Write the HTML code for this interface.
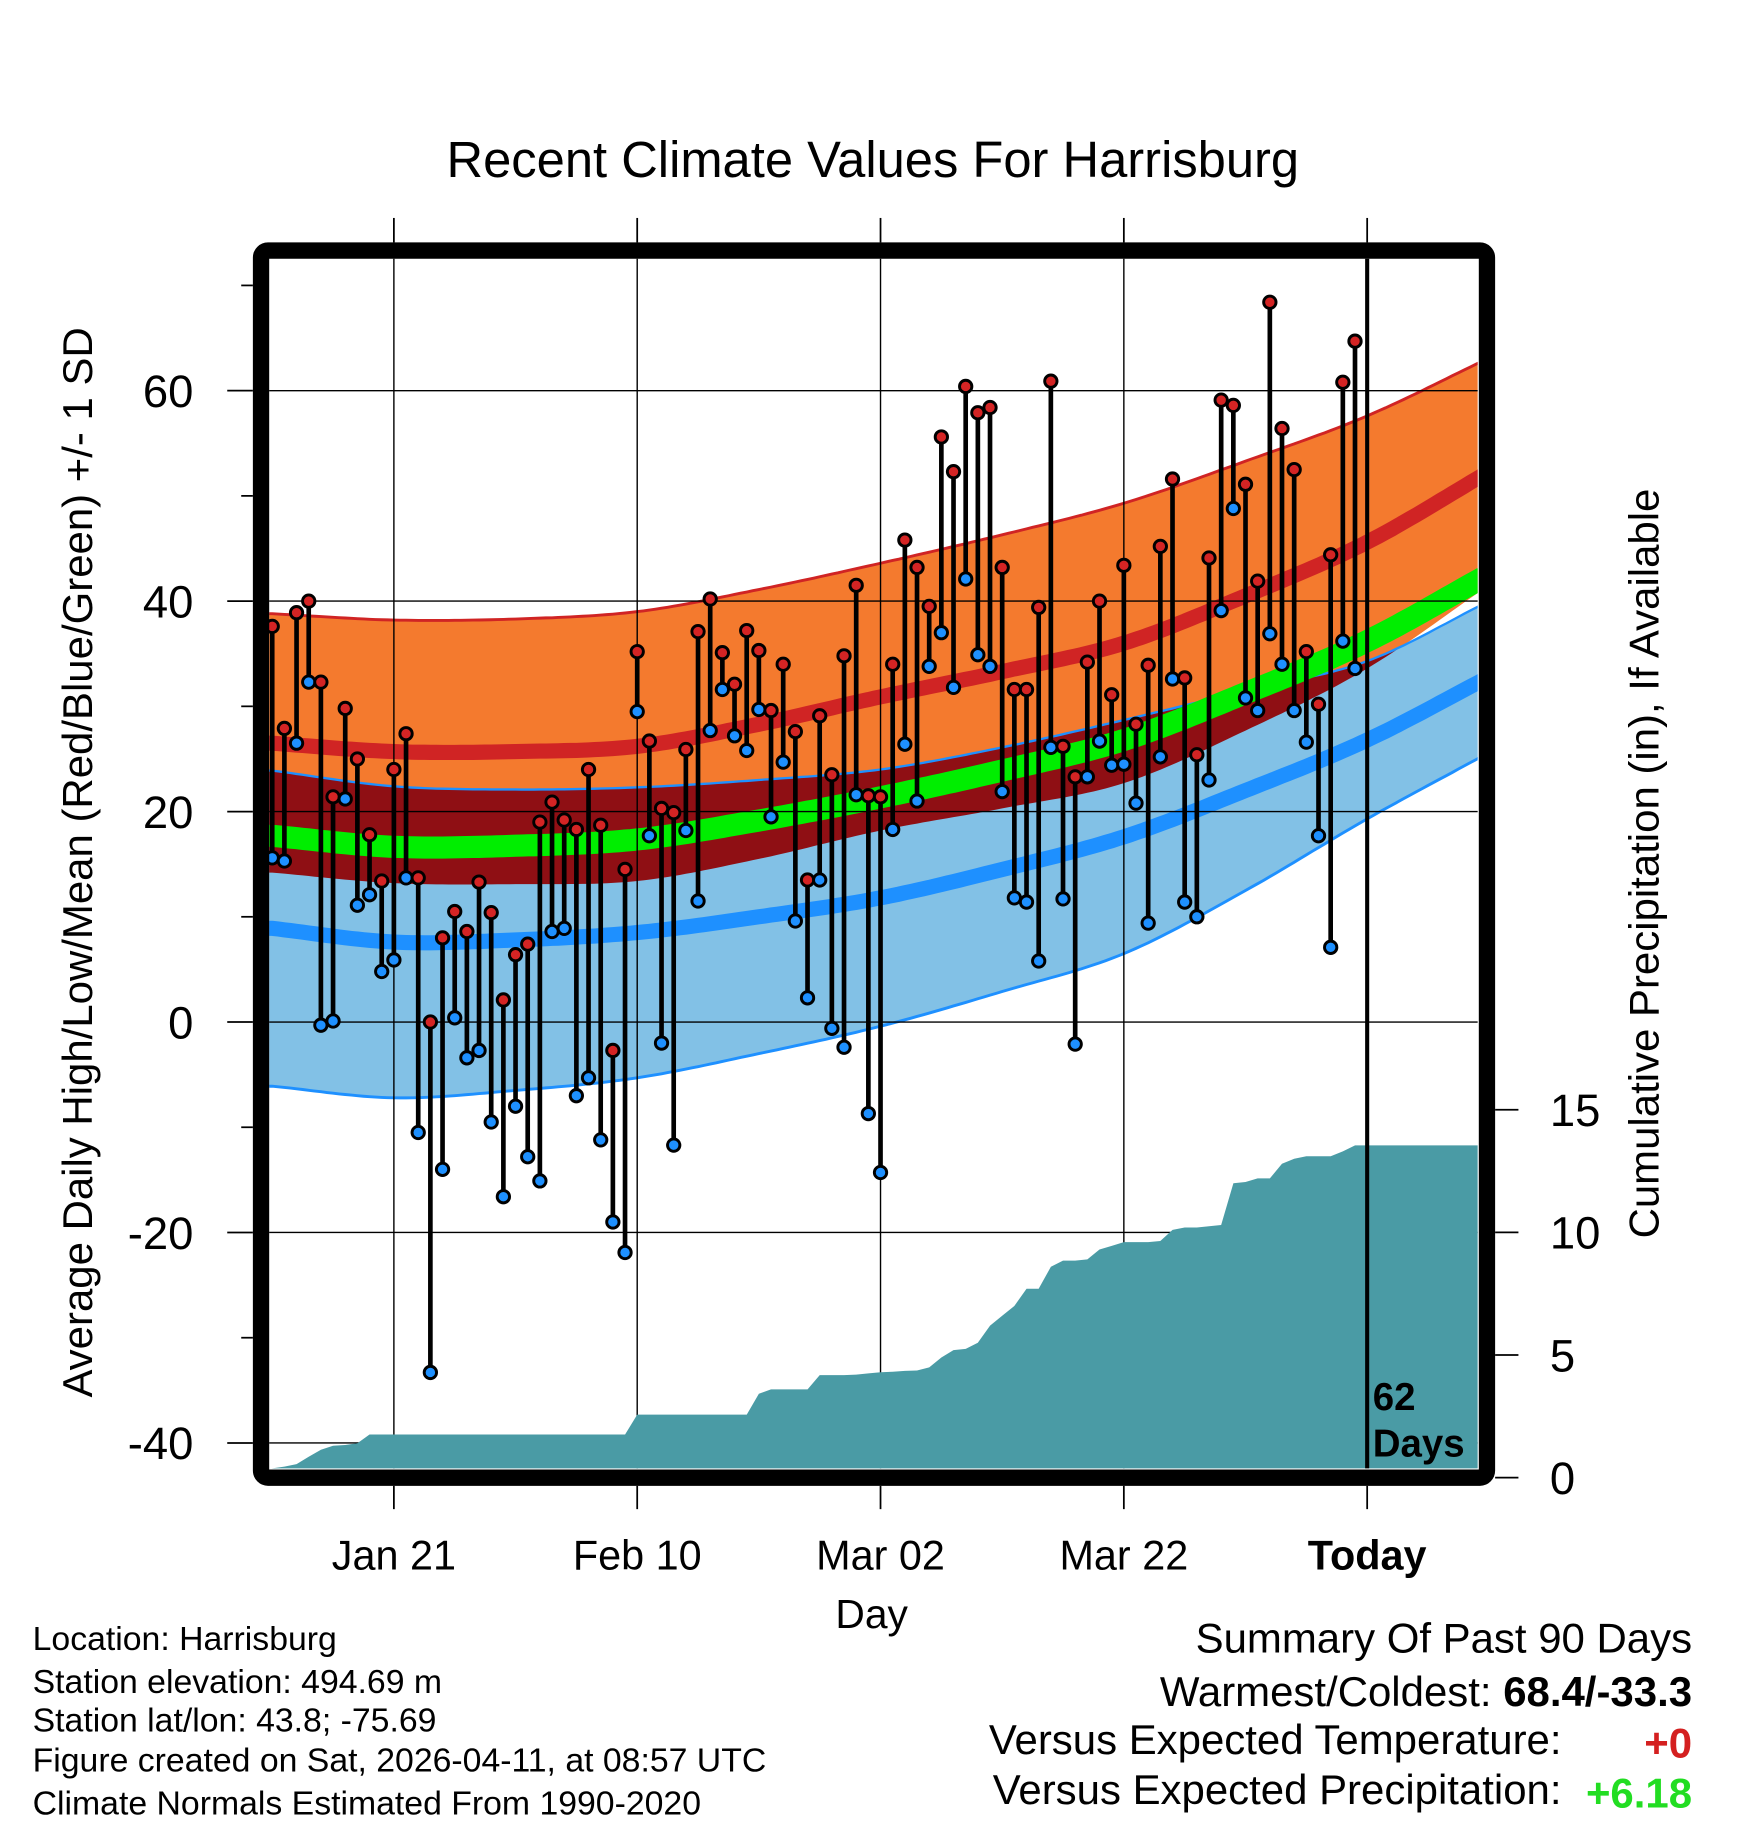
<!DOCTYPE html>
<html><head><meta charset="utf-8"><style>
html,body{margin:0;padding:0;background:#fff;}
svg{display:block;font-family:"Liberation Sans",Arial,sans-serif;}
</style></head><body>
<svg id="chart" width="1748" height="1828" viewBox="0 0 1500 1568.6" xmlns="http://www.w3.org/2000/svg">
<rect x="0" y="0" width="1500" height="1568.6" fill="#fff"/>
<defs><clipPath id="plotclip"><rect x="231" y="222" width="1037" height="1038"/></clipPath></defs>
<g id="bands" clip-path="url(#plotclip)"></g>
<g id="grid"></g>
<g id="precip" clip-path="url(#plotclip)"></g>
<g id="today"></g>
<g id="marks"></g>
<rect x="224" y="215" width="1052" height="1053" rx="6" fill="none" stroke="#000" stroke-width="14"/>
<g id="axes"></g>
<text x="749" y="152" font-size="43.5" text-anchor="middle">Recent Climate Values For Harrisburg</text>
<text transform="translate(79,740) rotate(-90)" font-size="36" text-anchor="middle">Average Daily High/Low/Mean (Red/Blue/Green) +/- 1 SD</text>
<text transform="translate(1423,741) rotate(-90)" font-size="36" text-anchor="middle">Cumulative Precipitation (in), If Available</text>
<text x="748" y="1397" font-size="35" text-anchor="middle">Day</text>
<text x="1178" y="1210" font-size="33" font-weight="bold">62</text>
<text x="1178" y="1250" font-size="33" font-weight="bold">Days</text>
<g font-size="29">
<text x="28" y="1416">Location: Harrisburg</text>
<text x="28" y="1453">Station elevation: 494.69 m</text>
<text x="28" y="1486">Station lat/lon: 43.8; -75.69</text>
<text x="28" y="1520">Figure created on Sat, 2026-04-11, at 08:57 UTC</text>
<text x="28" y="1557">Climate Normals Estimated From 1990-2020</text>
</g>
<g font-size="36">
<text x="1452" y="1418" text-anchor="end">Summary Of Past 90 Days</text>
<text x="1452" y="1464" text-anchor="end">Warmest/Coldest: <tspan font-weight="bold">68.4/-33.3</tspan></text>
<text x="1340" y="1505" text-anchor="end">Versus Expected Temperature:</text>
<text x="1452" y="1508" text-anchor="end" font-weight="bold" fill="#d42020">+0</text>
<text x="1340" y="1548" text-anchor="end">Versus Expected Precipitation:</text>
<text x="1452" y="1551" text-anchor="end" font-weight="bold" fill="#22dd22">+6.18</text>
</g>
</svg>
<script>
const highs=[37.6,27.9,38.9,40.0,32.3,21.4,29.8,25.0,17.8,13.4,24.0,27.4,13.7,0.0,8.0,10.5,8.6,13.3,10.4,2.1,6.4,7.4,19.0,20.9,19.2,18.3,24.0,18.7,-2.7,14.5,35.2,26.7,20.3,19.9,25.9,37.1,40.2,35.1,32.1,37.2,35.3,29.6,34.0,27.6,13.5,29.1,23.5,34.8,41.5,21.5,21.4,34.0,45.8,43.2,39.5,55.6,52.3,60.4,57.9,58.4,43.2,31.6,31.6,39.4,60.9,26.2,23.3,34.2,40.0,31.1,43.4,28.3,33.9,45.2,51.6,32.7,25.4,44.1,59.1,58.6,51.1,41.9,68.4,56.4,52.5,35.2,30.2,44.4,60.8,64.7];
const lows=[15.6,15.3,26.5,32.3,-0.3,0.1,21.2,11.1,12.1,4.8,5.9,13.7,-10.5,-33.3,-14.0,0.4,-3.4,-2.7,-9.5,-16.6,-8.0,-12.8,-15.1,8.6,8.9,-7.0,-5.3,-11.2,-19.0,-21.9,29.5,17.7,-2.0,-11.7,18.2,11.5,27.7,31.6,27.2,25.8,29.7,19.5,24.7,9.6,2.3,13.5,-0.6,-2.4,21.6,-8.7,-14.3,18.3,26.4,21.0,33.8,37.0,31.8,42.1,34.9,33.8,21.9,11.8,11.4,5.8,26.1,11.7,-2.1,23.3,26.7,24.4,24.5,20.8,9.4,25.2,32.6,11.4,10.0,23.0,39.1,48.8,30.8,29.6,36.9,34.0,29.6,26.6,17.7,7.1,36.2,33.6];
const precip=[0.38,0.45,0.55,0.85,1.14,1.3,1.33,1.4,1.76,1.76,1.76,1.76,1.76,1.76,1.76,1.76,1.76,1.76,1.76,1.76,1.76,1.76,1.76,1.76,1.76,1.76,1.76,1.76,1.76,1.76,2.57,2.57,2.57,2.57,2.57,2.57,2.57,2.57,2.57,2.57,3.42,3.6,3.6,3.6,3.6,4.18,4.18,4.18,4.2,4.25,4.3,4.32,4.35,4.37,4.5,4.9,5.2,5.25,5.5,6.2,6.6,7.0,7.7,7.7,8.6,8.85,8.85,8.9,9.3,9.45,9.6,9.6,9.6,9.65,10.1,10.2,10.2,10.25,10.3,12.0,12.05,12.2,12.2,12.8,13.0,13.1,13.1,13.1,13.3,13.55];
const normDays=[0,10,20,30,40,50,60,70,80,90,100];
const highMean=[26.5,25.7,25.7,26.2,28.3,30.9,33.3,36.0,40.5,45.6,52.3];
const highSD=[12.3,12.5,12.6,12.8,12.8,12.7,13.0,13.3,12.8,12.0,10.8];
const lowMean=[8.9,7.6,7.8,8.5,10.0,11.8,14.5,17.6,22.0,26.8,32.8];
const lowSD=[15.0,14.8,14.3,13.8,13.0,12.2,11.6,11.1,9.5,7.5,7.2];
const xTickDays=[10,30,50,70,90];
const xTickLabels=["Jan 21","Feb 10","Mar 02","Mar 22","Today"];
const yTicks=[60,40,20,0,-20,-40];
const yMinor=[70,50,30,10,-10,-30];
const pTicks=[15,10,5,0];
const todayDay=90;

const NS="http://www.w3.org/2000/svg";
const X=d=>233.6+10.44*d;
const Y=v=>877-9.03*v;
const P=v=>1268-21.05*v;
function mk(tag,attrs,parent){const e=document.createElementNS(NS,tag);for(const k in attrs)e.setAttribute(k,attrs[k]);parent.appendChild(e);return e;}
function interp(arr,d){
  let k=0;while(k<normDays.length-2&&d>normDays[k+1])k++;
  const p1=arr[k],p2=arr[k+1];
  const p0=k>0?arr[k-1]:2*p1-p2;
  const p3=k+2<arr.length?arr[k+2]:2*p2-p1;
  const t=(d-normDays[k])/(normDays[k+1]-normDays[k]);
  const t2=t*t,t3=t2*t;
  return 0.5*((2*p1)+(-p0+p2)*t+(2*p0-5*p1+4*p2-p3)*t2+(-p0+3*p1-3*p2+p3)*t3);
}
const days=[];for(let d=-0.5;d<=99.5;d+=0.5)days.push(d);
const f=(fn)=>days.map(d=>[X(d),fn(Math.min(Math.max(d,0),100))]);
const hU=f(d=>Y(interp(highMean,d)+interp(highSD,d)));
const hL=f(d=>Y(interp(highMean,d)-interp(highSD,d)));
const hM=f(d=>Y(interp(highMean,d)));
const lU=f(d=>Y(interp(lowMean,d)+interp(lowSD,d)));
const lL=f(d=>Y(interp(lowMean,d)-interp(lowSD,d)));
const lM=f(d=>Y(interp(lowMean,d)));
const aM=f(d=>Y((interp(highMean,d)+interp(lowMean,d))/2));
const ptsStr=a=>a.map(p=>p[0].toFixed(1)+","+p[1].toFixed(1)).join(" ");
const band=(a,b)=>ptsStr(a)+" "+ptsStr(b.slice().reverse());
const bands=document.getElementById('bands');
let e;
e=mk('polygon',{points:band(hU,hL),fill:'#f47a2e'},bands);


e=mk('polygon',{points:band(lU,lL),fill:'#82c1e6'},bands);


const ovTop=lU.map((p,i)=>[p[0],p[1]]);
const ovBot=hL.map((p,i)=>[p[0],Math.max(p[1],lU[i][1])]);
e=mk('polygon',{points:band(ovTop,ovBot),fill:'#8f0f14'},bands);


e=mk('polyline',{points:ptsStr(hU),fill:'none',stroke:'#d02424','stroke-width':2.5},bands);


e=mk('polyline',{points:ptsStr(lU),fill:'none',stroke:'#1e90ff','stroke-width':2},bands);


e=mk('polyline',{points:ptsStr(lL),fill:'none',stroke:'#1e90ff','stroke-width':2.5},bands);


e=mk('polyline',{points:ptsStr(hM),fill:'none',stroke:'#d02424','stroke-width':13},bands);


e=mk('polyline',{points:ptsStr(lM),fill:'none',stroke:'#1e90ff','stroke-width':13},bands);


e=mk('polyline',{points:ptsStr(aM),fill:'none',stroke:'#00ee00','stroke-width':19},bands);



const grid=document.getElementById('grid');
yTicks.forEach(v=>{
  const g=mk('line',{x1:231,x2:1268,y1:Y(v),y2:Y(v),stroke:'#000','stroke-width':1.2},grid);
  
  
});
xTickDays.forEach((d,i)=>{
  if(d===todayDay)return;
  const g=mk('line',{x1:X(d),x2:X(d),y1:222,y2:1260,stroke:'#000','stroke-width':1.2},grid);
  
  
});

const pg=document.getElementById('precip');
let pp=[[X(0)-3,1262]];
precip.forEach((v,i)=>pp.push([X(i),P(v)]));
pp.push([1270,P(precip[precip.length-1])]);pp.push([1270,1262]);
e=mk('polygon',{points:ptsStr(pp),fill:'#4a9ba5'},pg);



const tg=document.getElementById('today');
e=mk('line',{x1:X(todayDay),x2:X(todayDay),y1:222,y2:1260,stroke:'#000','stroke-width':3.5},tg);



const mg=document.getElementById('marks');
highs.forEach((h,i)=>{
  const l=lows[i];
  const s=mk('line',{x1:X(i),x2:X(i),y1:Y(h),y2:Y(l),stroke:'#000','stroke-width':4},mg);
  
  
});
highs.forEach((h,i)=>{
  const c1=mk('circle',{cx:X(i),cy:Y(h),r:5.3,fill:'#d42424',stroke:'#000','stroke-width':2.5},mg);
  
  
  const c2=mk('circle',{cx:X(i),cy:Y(lows[i]),r:5.3,fill:'#1e90ff',stroke:'#000','stroke-width':2.5},mg);
  
  
});

const ax=document.getElementById('axes');
yTicks.forEach(v=>{
  const t=mk('line',{x1:195,x2:217,y1:Y(v),y2:Y(v),stroke:'#000','stroke-width':1.5},ax);
  
  
  const l=mk('text',{x:166,y:Y(v)+14,'font-size':39,'text-anchor':'end'},ax);
  l.textContent=String(v);
  
  
});
yMinor.forEach(v=>{
  const t=mk('line',{x1:207,x2:217,y1:Y(v),y2:Y(v),stroke:'#000','stroke-width':1.5},ax);
  
  
});
pTicks.forEach(v=>{
  const t=mk('line',{x1:1283,x2:1303,y1:P(v),y2:P(v),stroke:'#000','stroke-width':1.5},ax);
  
  
  const l=mk('text',{x:1330,y:P(v)+14,'font-size':39},ax);
  l.textContent=String(v);
  
  
});
xTickDays.forEach((d,i)=>{
  const t1=mk('line',{x1:X(d),x2:X(d),y1:187,y2:208,stroke:'#000','stroke-width':1.5},ax);
  
  
  const t2=mk('line',{x1:X(d),x2:X(d),y1:1275,y2:1295,stroke:'#000','stroke-width':1.5},ax);
  
  
  const l=mk('text',{x:X(d),y:1347,'font-size':35.5,'text-anchor':'middle'},ax);
  if(d===todayDay)l.setAttribute('font-weight','bold');
  l.textContent=xTickLabels[i];
  
  
});
</script>
</body></html>
